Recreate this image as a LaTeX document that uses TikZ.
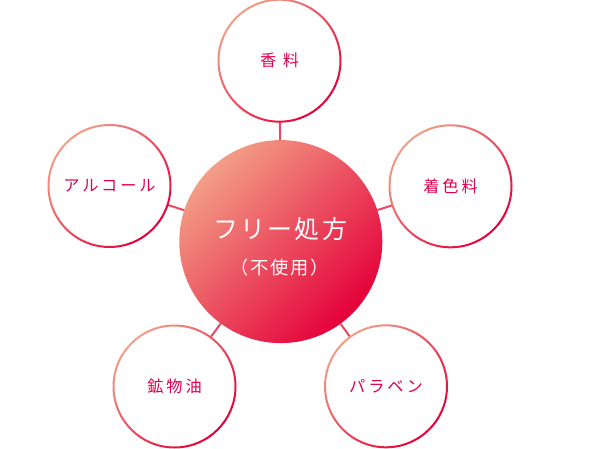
\documentclass[tikz,border=0pt]{standalone}
\usepackage{fontspec}
\setmainfont{Noto Sans CJK JP}
\newfontfamily\outerfont[LetterSpace=18]{Noto Sans CJK JP}
\newfontfamily\bigfont[LetterSpace=9]{Noto Sans CJK JP}
\newfontfamily\midfont[LetterSpace=10]{Noto Sans CJK JP}
\definecolor{salmon}{HTML}{F29E86}
\definecolor{crim}{HTML}{E5003A}
\definecolor{txt}{HTML}{E2004E}
\definecolor{linkc}{HTML}{E94763}
\begin{document}
\begin{tikzpicture}[x=1pt,y=-1pt,
  item/.style={circle, minimum size=122pt, inner sep=0pt, outer sep=0pt, text=txt,
    font=\outerfont\fontsize{16.2}{19}\selectfont},
  hub/.style={circle, minimum size=203pt, inner sep=0pt, outer sep=0pt,
    top color=salmon, bottom color=crim, shading angle=45},
  hubtext/.style={text=white, inner sep=0pt},
  linkline/.style={draw=linkc, line width=2pt},
  ringshade/.style={top color=salmon, bottom color=crim, shading angle=45, even odd rule}]
\useasboundingbox (0,0) rectangle (599,449);
\node[hub] (c) at (280.8,241.6) {};
\node[hubtext, font=\bigfont\fontsize{25}{30}\selectfont] (c1) at (280,229) {フリー処方};
\node[hubtext, font=\midfont\fontsize{18.2}{22}\selectfont] (c2) at (280,268) {（不使用）};
\node[item] (t) at (279.5,60.7) {香 料};
\node[item] (r) at (450.5,186.3) {着色料};
\node[item] (l) at (109.5,186) {アルコール};
\node[item] (bl) at (174.5,386.5) {鉱物油};
\node[item] (br) at (386,386.3) {パラベン};
\foreach \n in {t,r,l,bl,br}{
  \draw[linkline] (c) -- (\n);
  \shade[ringshade] (\n.center) circle (62pt) (\n.center) circle (60pt);
}
\end{tikzpicture}
\end{document}
